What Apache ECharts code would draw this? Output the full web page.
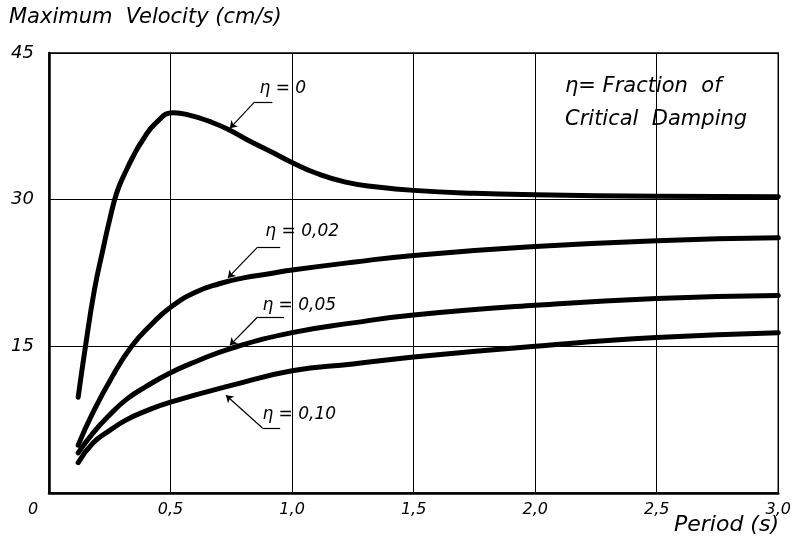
<!DOCTYPE html>
<html>
<head>
<meta charset="utf-8">
<script src="https://cdn.jsdelivr.net/npm/echarts@6/dist/echarts.min.js"></script>
<style>
html,body{margin:0;padding:0;background:#fff;}
#c{width:794px;height:545px;}
</style>
</head>
<body>
<div id="c"></div>
<script>
// ---- data ----
const periods0 = [0.12, 0.15, 0.187, 0.221, 0.25, 0.28, 0.316, 0.35, 0.383, 0.438, 0.512, 0.585, 0.66, 0.736, 0.817, 0.93, 1.00, 1.10, 1.22, 1.35, 1.50, 1.75, 2.00, 2.50, 3.00];
const eta0     = [9.8, 15.0, 20.8, 24.8, 28.0, 30.8, 32.9, 34.6, 36.0, 37.8, 38.9, 38.6, 38.0, 37.2, 36.1, 34.7, 33.8, 32.7, 31.8, 31.3, 30.95, 30.65, 30.5, 30.35, 30.3];
const periodsD = [0.12, 0.18, 0.26, 0.34, 0.42, 0.50, 0.60, 0.70, 0.80, 0.90, 1.00, 1.25, 1.50, 2.00, 2.50, 3.00];
const eta002   = [4.9, 8.2, 11.9, 15.0, 17.2, 19.0, 20.5, 21.4, 22.0, 22.4, 22.8, 23.6, 24.3, 25.2, 25.8, 26.1];
const periodsE = [0.12, 0.18, 0.25, 0.32, 0.40, 0.50, 0.60, 0.75, 1.00, 1.25, 1.50, 2.00, 2.50, 3.00];
const eta005   = [4.1, 6.1, 8.0, 9.6, 10.9, 12.3, 13.4, 14.8, 16.4, 17.4, 18.2, 19.2, 19.9, 20.2];
const periodsF = [0.12, 0.18, 0.25, 0.32, 0.40, 0.50, 0.75, 1.00, 1.25, 1.50, 2.00, 2.50, 3.00];
const eta010   = [3.1, 5.1, 6.4, 7.5, 8.4, 9.3, 11.0, 12.5, 13.2, 13.9, 15.0, 15.9, 16.4];
const xTicks     = [0, 0.5, 1.0, 1.5, 2.0, 2.5, 3.0];
const yTicks     = [0, 15, 30, 45];
const curveNames = ['η = 0', 'η = 0,02', 'η = 0,05', 'η = 0,10'];
// annotation anchors in data units: [textX, textY, underlineX1, underlineX2, underlineY, curveX, curveY]
const notes = [
  [0.866, 41.4, 0.846, 0.919, 40.0, 0.744, 37.3],
  [0.890, 26.7, 0.858, 0.951, 25.15, 0.736, 22.0],
  [0.878, 19.2, 0.858, 0.967, 18.0, 0.744, 15.1],
  [0.878, 8.0, 0.878, 0.951, 6.65, 0.728, 10.0]
];

const FONT = 'DejaVu Sans';
const zip = (xs, ys) => xs.map((x, i) => [x, ys[i]]);
const seriesData = [zip(periods0, eta0), zip(periodsD, eta002), zip(periodsE, eta005), zip(periodsF, eta010)];

const chart = echarts.init(document.getElementById('c'), null, {renderer: 'canvas'});

const series = seriesData.map((d, i) => {
  const n = notes[i];
  return {
    type: 'line',
    name: curveNames[i],
    data: d,
    smooth: 0.5,
    showSymbol: false,
    symbol: 'none',
    lineStyle: {color: '#000', width: 5, cap: 'round', join: 'round'},
    z: 3,
    markLine: {
      silent: true,
      animation: false,
      label: {show: false},
      lineStyle: {color: '#000', width: 1.2, type: 'solid'},
      data: [
        [{coord: [n[2], n[4]], symbol: 'none'}, {coord: [n[3], n[4]], symbol: 'none'}],
        [{coord: [n[2], n[4]], symbol: 'none'}, {coord: [n[5], n[6]], symbol: 'arrow', symbolSize: 7}]
      ]
    },
    markPoint: {
      silent: true,
      animation: false,
      symbol: 'circle',
      symbolSize: 0,
      data: [{
        coord: [n[0], n[1]],
        label: {
          show: true, position: 'right', distance: 0,
          formatter: curveNames[i],
          color: '#000', fontFamily: FONT, fontStyle: 'italic', fontSize: 17
        }
      }]
    }
  };
});

const option = {
  animation: false,
  backgroundColor: '#fff',
  grid: {left: 49, right: 7, top: 53, bottom: 52, show: true, borderColor: '#000', borderWidth: 1.5},
  xAxis: {
    type: 'value', min: xTicks[0], max: xTicks[xTicks.length - 1], interval: 0.5,
    axisLine: {show: true, lineStyle: {color: '#000', width: 2.5}},
    axisTick: {show: false},
    splitLine: {show: true, lineStyle: {color: '#000', width: 1}},
    axisLabel: {
      margin: 9,
      color: '#000', fontFamily: FONT, fontStyle: 'italic', fontSize: 16,
      showMaxLabel: true, showMinLabel: true,
      formatter: v => v === 0 ? '{o|0}' : v.toFixed(1).replace('.', ','),
      rich: {o: {padding: [0, 32, 0, 0], fontFamily: FONT, fontStyle: 'italic', fontSize: 16, color: '#000'}}
    }
  },
  yAxis: {
    type: 'value', min: yTicks[0], max: yTicks[yTicks.length - 1], interval: 15,
    axisLine: {show: true, lineStyle: {color: '#000', width: 2.5}},
    axisTick: {show: false},
    splitLine: {show: true, lineStyle: {color: '#000', width: 1}},
    axisLabel: {
      margin: 15,
      color: '#000', fontFamily: FONT, fontStyle: 'italic', fontSize: 18,
      showMaxLabel: true,
      formatter: v => v === 0 ? '' : String(v)
    }
  },
  graphic: [
    {type: 'text', left: 9, top: 7, style: {text: 'Maximum  Velocity (cm/s)', fill: '#000', font: 'italic 21px "DejaVu Sans"'}},
    {type: 'text', right: 15, top: 514, style: {text: 'Period (s)', fill: '#000', font: 'italic 22px "DejaVu Sans"'}},
    {type: 'text', left: 565, top: 76, style: {text: 'η= Fraction  of', fill: '#000', font: 'italic 21px "DejaVu Sans"'}},
    {type: 'text', left: 565, top: 109, style: {text: 'Critical  Damping', fill: '#000', font: 'italic 21px "DejaVu Sans"'}}
  ],
  series: series
};
chart.setOption(option);
</script>
</body>
</html>
